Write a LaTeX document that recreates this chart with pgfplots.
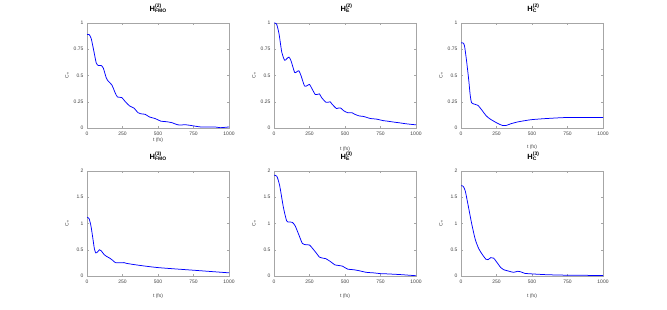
\documentclass[border=0pt]{standalone}
\usepackage{pgfplots}
\pgfplotsset{compat=1.18}
\usepackage{fontspec}
\setmainfont{Liberation Sans}
\newcommand{\ttl}[2]{\bfseries H\rlap{\raisebox{4.3pt}{\fontsize{5}{5}\selectfont(#1)}}\raisebox{-1.5pt}{\fontsize{5}{5}\selectfont #2}}
\pgfplotsset{
 mystyle/.style={
  width=142pt, height=105pt, scale only axis, anchor=south west,
  xmin=0, xmax=1000, xtick={0,250,500,750,1000},
  axis line style={draw=black!35},
  tick style={draw=black!35},
  major tick length=2pt, tick align=inside,
  ticklabel style={font=\fontsize{5}{6}\selectfont, text=black!75},
  label style={font=\fontsize{5}{6}\selectfont, text=black!75},
  xlabel={t (fs)}, ylabel={C\textsubscript{*}},
  ylabel style={at={(axis description cs:-0.135,0.5)}, anchor=center, rotate=0},
  title style={font=\fontsize{7.5}{8}\selectfont, anchor=base, at={(axis description cs:0.5,1.054)}},
  /pgf/number format/assume math mode=true,
  /pgf/number format/1000 sep={},
  every axis plot/.append style={color=blue, line width=0.75pt, no marks, smooth, tension=0.4},
 },
 toprow/.style={mystyle, ymin=0, ymax=1, ytick={0,0.25,0.5,0.75,1}},
 botrow/.style={mystyle, ymin=0, ymax=2, ytick={0,0.5,1,1.5,2},
  xlabel style={at={(axis description cs:0.5,-0.19)}, anchor=center}},
}
\begin{document}
\begin{tikzpicture}
% ---------- top row ----------
\begin{axis}[toprow, at={(87pt,182pt)}, title={\ttl{2}{FMO}},
  xlabel style={at={(axis description cs:0.5,-0.12)}, anchor=center}]
\addplot coordinates {(0,0.89)(15,0.89)(30,0.85)(50,0.72)(65,0.62)(80,0.595)(100,0.595)(115,0.57)(135,0.48)(150,0.445)(175,0.41)(200,0.33)(215,0.295)(245,0.29)(270,0.25)(300,0.21)(330,0.19)(360,0.145)(380,0.135)(410,0.13)(440,0.105)(480,0.09)(520,0.065)(560,0.06)(600,0.05)(640,0.03)(700,0.03)(750,0.02)(800,0.01)(850,0.01)(900,0.01)(940,0.003)(1000,0.01)};
\end{axis}
\begin{axis}[toprow, at={(274pt,182pt)}, title={\ttl{2}{E}},
  xlabel style={at={(axis description cs:0.5,-0.2)}, anchor=center}]
\addplot coordinates {(0,1.0)(18,0.99)(35,0.9)(55,0.72)(75,0.645)(90,0.66)(105,0.675)(120,0.64)(145,0.53)(160,0.535)(175,0.545)(190,0.5)(215,0.40)(235,0.405)(250,0.415)(265,0.38)(290,0.32)(305,0.32)(320,0.325)(335,0.29)(365,0.245)(380,0.245)(395,0.25)(410,0.225)(440,0.185)(455,0.19)(470,0.19)(490,0.165)(520,0.145)(550,0.145)(570,0.13)(600,0.115)(630,0.11)(655,0.1)(680,0.09)(720,0.085)(770,0.07)(800,0.065)(850,0.055)(880,0.05)(930,0.04)(1000,0.03)};
\end{axis}
\begin{axis}[toprow, at={(461pt,182pt)}, title={\ttl{2}{C}},
  xlabel style={at={(axis description cs:0.5,-0.18)}, anchor=center}]
\addplot coordinates {(0,0.81)(15,0.81)(25,0.78)(40,0.63)(55,0.45)(65,0.31)(75,0.24)(100,0.225)(120,0.215)(150,0.165)(175,0.12)(200,0.09)(250,0.05)(290,0.025)(320,0.025)(350,0.04)(400,0.058)(450,0.07)(500,0.08)(600,0.09)(750,0.1)(1000,0.1)};
\end{axis}
% ---------- bottom row ----------
\begin{axis}[botrow, at={(87pt,34pt)}, title={\ttl{3}{FMO}}]
\addplot coordinates {(0,1.12)(15,1.09)(28,0.95)(40,0.74)(52,0.52)(62,0.44)(75,0.46)(88,0.50)(100,0.48)(120,0.41)(140,0.37)(160,0.34)(180,0.30)(200,0.255)(230,0.25)(260,0.255)(280,0.24)(350,0.21)(500,0.16)(750,0.11)(1000,0.06)};
\end{axis}
\begin{axis}[botrow, at={(274pt,34pt)}, title={\ttl{3}{E}}]
\addplot coordinates {(0,1.92)(20,1.90)(40,1.72)(66,1.31)(89,1.05)(105,1.03)(130,1.02)(150,0.95)(180,0.75)(200,0.62)(225,0.595)(250,0.59)(270,0.53)(300,0.43)(320,0.36)(345,0.34)(365,0.33)(400,0.27)(430,0.21)(455,0.20)(480,0.19)(520,0.13)(560,0.12)(600,0.10)(650,0.07)(700,0.06)(750,0.045)(800,0.04)(900,0.025)(1000,0.005)};
\end{axis}
\begin{axis}[botrow, at={(461pt,34pt)}, title={\ttl{3}{C}}]
\addplot coordinates {(0,1.72)(15,1.71)(30,1.62)(50,1.35)(75,1.0)(100,0.70)(125,0.52)(150,0.41)(175,0.32)(190,0.31)(210,0.35)(230,0.34)(250,0.27)(280,0.16)(300,0.12)(340,0.09)(370,0.07)(400,0.09)(420,0.08)(450,0.05)(500,0.04)(600,0.025)(750,0.015)(1000,0.01)};
\end{axis}
\pgfresetboundingbox
\path (0,0) rectangle (667pt,310pt);
\end{tikzpicture}
\end{document}
